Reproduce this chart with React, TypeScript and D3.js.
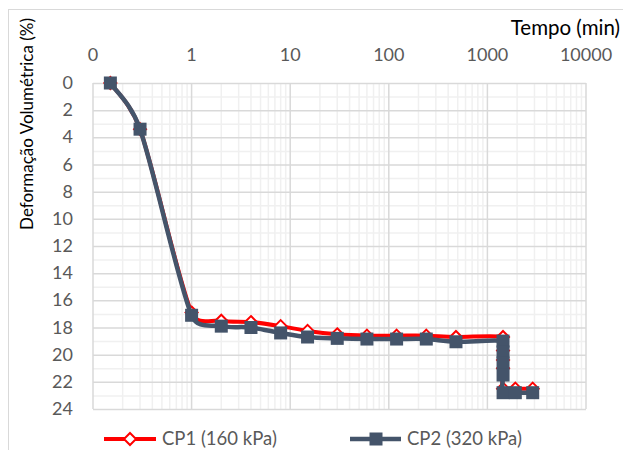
import React, { useEffect, useRef } from 'react';
import * as d3 from 'd3';

// time (min) and volumetric strain (%)
const cp1Time = [0.15, 0.3, 1, 2, 4, 8, 15, 30, 60, 120, 240, 480, 1440, 1440.5, 1441, 1441.5, 1442, 1920, 2880];
const cp1Def = [0, 3.4, 16.9, 17.5, 17.6, 17.9, 18.25, 18.5, 18.6, 18.6, 18.6, 18.7, 18.7, 19.7, 20.4, 21.0, 22.5, 22.5, 22.5];
const cp2Time = [0.15, 0.3, 1, 2, 4, 8, 15, 30, 60, 120, 240, 480, 1440, 1440.5, 1441, 1441.5, 1442, 1920, 2880];
const cp2Def = [0, 3.4, 17.1, 17.9, 18.0, 18.4, 18.7, 18.8, 18.85, 18.85, 18.85, 19.05, 19.0, 19.8, 20.6, 21.5, 22.8, 22.8, 22.8];

const xTicks = [0.1, 1, 10, 100, 1000, 10000];
const xTickLabels = ['0', '1', '10', '100', '1000', '10000'];
const yTicks = [0, 2, 4, 6, 8, 10, 12, 14, 16, 18, 20, 22, 24];
const seriesNames = ['CP1 (160 kPa)', 'CP2 (320 kPa)'];

const W = 623;
const H = 450;
const FONT = 'Lato, Carlito, Calibri, sans-serif';

// spreadsheet-like smoothing: catmull-rom arms clamped to half the segment
const smoothPath = (pts: [number, number][]) => {
  const p = d3.path();
  const arm = (i: number, dir: number) => {
    const a = pts[Math.max(0, i - 1)];
    const b = pts[Math.min(pts.length - 1, i + 1)];
    let dx = (b[0] - a[0]) / 6;
    let dy = (b[1] - a[1]) / 6;
    const n = pts[i + dir];
    const seg = Math.hypot(n[0] - pts[i][0], n[1] - pts[i][1]) / 2;
    const len = Math.hypot(dx, dy);
    if (len > seg && len > 0) {
      dx *= seg / len;
      dy *= seg / len;
    }
    return [dx * dir, dy * dir];
  };
  p.moveTo(pts[0][0], pts[0][1]);
  for (let i = 0; i < pts.length - 1; i++) {
    const a1 = arm(i, 1);
    const a2 = arm(i + 1, -1);
    p.bezierCurveTo(
      pts[i][0] + a1[0], pts[i][1] + a1[1],
      pts[i + 1][0] + a2[0], pts[i + 1][1] + a2[1],
      pts[i + 1][0], pts[i + 1][1]
    );
  }
  return p.toString();
};

const App = () => {
  const ref = useRef<SVGSVGElement>(null);

  useEffect(() => {
    const svg = d3.select(ref.current);
    svg.selectAll('*').remove();

    const x = d3.scaleLog().domain([0.1, 10000]).range([93, 586]);
    const y = d3.scaleLinear().domain([0, 24]).range([83, 409]);

    svg.append('rect')
      .attr('x', 8.5).attr('y', 9.5)
      .attr('width', 700).attr('height', 600)
      .attr('fill', '#fff').attr('stroke', '#d9d9d9');

    const grid = svg.append('g');
    // minor horizontal
    d3.range(1, 24, 2).forEach((v) => {
      grid.append('line')
        .attr('x1', x(0.1)).attr('x2', x(10000))
        .attr('y1', y(v) + 0.5).attr('y2', y(v) + 0.5)
        .attr('stroke', '#f0f0f0').attr('stroke-width', 1.5);
    });
    // minor vertical
    for (let dec = 0.1; dec < 10000; dec *= 10) {
      for (let k = 2; k <= 9; k++) {
        grid.append('line')
          .attr('x1', x(dec * k)).attr('x2', x(dec * k))
          .attr('y1', y(0)).attr('y2', y(24))
          .attr('stroke', '#f0f0f0').attr('stroke-width', 1.5);
      }
    }
    yTicks.forEach((v) => {
      grid.append('line')
        .attr('x1', x(0.1)).attr('x2', x(10000))
        .attr('y1', y(v) + 0.5).attr('y2', y(v) + 0.5)
        .attr('stroke', '#d9d9d9').attr('stroke-width', 1.5);
    });
    xTicks.forEach((v) => {
      grid.append('line')
        .attr('x1', x(v)).attr('x2', x(v))
        .attr('y1', y(0)).attr('y2', y(24))
        .attr('stroke', '#d9d9d9').attr('stroke-width', 1.5);
    });

    // tick labels
    xTicks.forEach((v, i) => {
      svg.append('text')
        .attr('x', x(v)).attr('y', 61)
        .attr('text-anchor', 'middle')
        .attr('font-family', FONT).attr('font-size', 18)
        .attr('fill', '#595959')
        .text(xTickLabels[i]);
    });
    yTicks.forEach((v) => {
      svg.append('text')
        .attr('x', 73).attr('y', y(v) + 6)
        .attr('text-anchor', 'end')
        .attr('font-family', FONT).attr('font-size', 18)
        .attr('fill', '#595959')
        .text(v);
    });

    svg.append('text')
      .attr('x', 620).attr('y', 35)
      .attr('text-anchor', 'end')
      .attr('font-family', FONT).attr('font-size', 20.5)
      .attr('fill', '#000')
      .text('Tempo (min)');

    svg.append('text')
      .attr('transform', 'translate(33,124) rotate(-90)')
      .attr('text-anchor', 'middle')
      .attr('font-family', FONT).attr('font-size', 17)
      .attr('fill', '#000')
      .text('Deformação Volumétrica (%)');

    const cp1 = cp1Time.map((t, i) => [x(t), y(cp1Def[i])] as [number, number]);
    const cp2 = cp2Time.map((t, i) => [x(t), y(cp2Def[i])] as [number, number]);

    const diamond = (g: any, cx: number, cy: number) => {
      g.append('path')
        .attr('d', `M${cx},${cy - 6}L${cx + 6},${cy}L${cx},${cy + 6}L${cx - 6},${cy}Z`)
        .attr('fill', '#fff').attr('stroke', '#ff0000').attr('stroke-width', 2);
    };
    const square = (g: any, cx: number, cy: number) => {
      g.append('rect')
        .attr('x', cx - 6.5).attr('y', cy - 6.5)
        .attr('width', 13).attr('height', 13)
        .attr('fill', '#44546a');
    };

    svg.append('path')
      .attr('d', smoothPath(cp1))
      .attr('fill', 'none').attr('stroke', '#ff0000').attr('stroke-width', 4);
    const m1 = svg.append('g');
    cp1.forEach((d) => diamond(m1, d[0], d[1]));

    svg.append('path')
      .attr('d', smoothPath(cp2))
      .attr('fill', 'none').attr('stroke', '#44546a').attr('stroke-width', 4.5);
    const m2 = svg.append('g');
    cp2.forEach((d) => square(m2, d[0], d[1]));

    // legend
    const ly = 439;
    svg.append('line').attr('x1', 104).attr('x2', 156).attr('y1', ly).attr('y2', ly)
      .attr('stroke', '#ff0000').attr('stroke-width', 4);
    diamond(svg, 130, ly);
    svg.append('text').attr('x', 162).attr('y', ly + 6)
      .attr('font-family', FONT).attr('font-size', 18.5).attr('fill', '#595959')
      .text(seriesNames[0]);

    svg.append('line').attr('x1', 350).attr('x2', 401).attr('y1', ly).attr('y2', ly)
      .attr('stroke', '#44546a').attr('stroke-width', 4.5);
    square(svg, 376, ly);
    svg.append('text').attr('x', 407).attr('y', ly + 6)
      .attr('font-family', FONT).attr('font-size', 18.5).attr('fill', '#595959')
      .text(seriesNames[1]);
  }, []);

  return (
    <svg
      ref={ref}
      width={W}
      height={H}
      style={{ position: 'absolute', left: 0, top: 0, display: 'block' }}
    />
  );
};

export default App;
